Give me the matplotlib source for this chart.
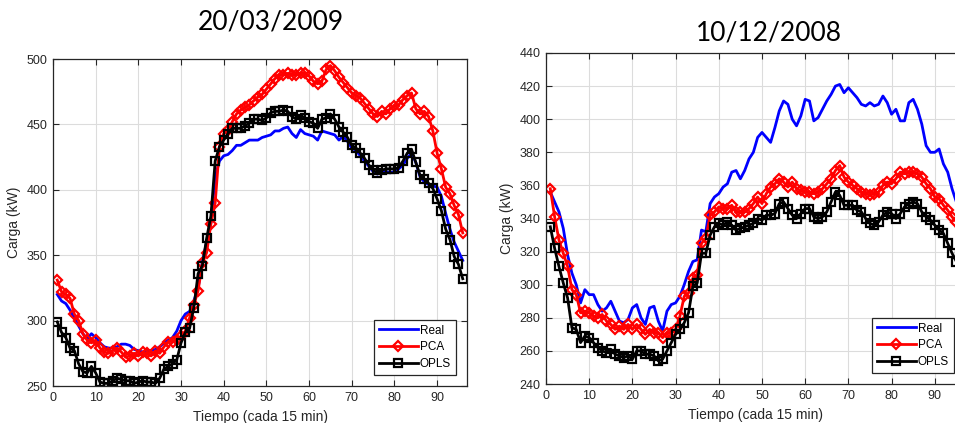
import matplotlib
matplotlib.use('Agg')
import matplotlib.pyplot as plt
import numpy as np

# load profiles, one value every 15 min (96 per day)
tiempo = np.arange(1, 97)

# 20/03/2009
real_mar = [320, 315, 313, 308, 302, 296, 290, 286, 290, 287,
            283, 280, 279, 279, 280, 282, 282, 281, 278, 277,
            276, 277, 277, 278, 280, 283, 285, 287, 292, 300,
            305, 307, 315, 325, 345, 360, 375, 410, 422, 426,
            427, 430, 434, 434, 436, 438, 438, 438, 440, 441,
            442, 445, 445, 447, 448, 443, 440, 446, 443, 442,
            441, 438, 445, 444, 443, 442, 438, 441, 437, 432,
            430, 426, 422, 418, 414, 412, 414, 414, 413, 414,
            416, 419, 424, 428, 421, 410, 406, 404, 403, 402,
            395, 382, 370, 360, 353, 346]
pca_mar = [331, 322, 320, 317, 305, 300, 290, 285, 283, 285,
           279, 276, 275, 277, 279, 276, 272, 273, 275, 273,
           276, 275, 273, 277, 275, 280, 284, 284, 285, 288,
           292, 302, 312, 323, 344, 352, 374, 390, 433, 443,
           446, 452, 458, 461, 463, 465, 468, 471, 473, 477,
           481, 485, 488, 488, 489, 488, 488, 489, 489, 487,
           483, 481, 483, 492, 495, 491, 486, 482, 478, 474,
           472, 470, 466, 462, 458, 456, 460, 458, 462, 464,
           465, 469, 472, 474, 462, 458, 460, 456, 445, 428,
           416, 402, 397, 388, 381, 367]
opls_mar = [299, 291, 287, 279, 277, 267, 261, 260, 265, 260,
            253, 252, 252, 254, 256, 255, 254, 254, 252, 253,
            254, 253, 253, 252, 256, 263, 265, 267, 270, 283,
            291, 294, 310, 336, 342, 363, 380, 422, 433, 438,
            443, 447, 447, 447, 449, 451, 454, 454, 453, 455,
            459, 460, 460, 461, 460, 456, 454, 457, 455, 452,
            451, 447, 454, 455, 458, 454, 448, 444, 440, 434,
            432, 428, 424, 419, 415, 413, 415, 416, 416, 416,
            417, 422, 428, 431, 421, 411, 408, 405, 401, 393,
            384, 370, 362, 349, 343, 332]

# 10/12/2008
real_dic = [356, 350, 344, 334, 318, 307, 300, 289, 297, 294,
            294, 288, 284, 286, 290, 284, 278, 277, 279, 286,
            288, 280, 276, 286, 287, 278, 272, 284, 288, 289,
            293, 300, 308, 314, 315, 333, 332, 349, 353, 355,
            359, 361, 368, 369, 364, 369, 376, 380, 389, 392,
            389, 386, 395, 405, 411, 409, 400, 396, 402, 412,
            411, 399, 401, 406, 411, 415, 420, 421, 416, 419,
            416, 413, 409, 408, 410, 408, 409, 414, 410, 403,
            406, 399, 399, 410, 412, 406, 397, 384, 380, 380,
            382, 373, 368, 358, 350, 344]
pca_dic = [358, 341, 327, 319, 311, 297, 294, 283, 284, 283,
           281, 280, 282, 278, 276, 273, 275, 273, 276, 273,
           276, 273, 270, 273, 271, 271, 268, 271, 271, 273,
           281, 293, 295, 304, 306, 325, 328, 342, 344, 347,
           346, 346, 348, 344, 344, 344, 346, 349, 353, 349,
           355, 359, 361, 364, 362, 359, 362, 358, 357, 356,
           356, 355, 356, 358, 361, 364, 369, 372, 365, 362,
           360, 358, 356, 355, 354, 355, 356, 360, 362, 361,
           364, 368, 367, 368, 368, 367, 365, 361, 358, 353,
           352, 348, 345, 341, 338, 335]
opls_dic = [335, 322, 311, 301, 292, 274, 273, 265, 269, 268,
            265, 262, 260, 259, 261, 258, 257, 256, 257, 255,
            260, 260, 258, 258, 257, 254, 255, 260, 265, 270,
            273, 277, 283, 299, 301, 319, 319, 330, 335, 337,
            336, 338, 336, 333, 334, 335, 336, 337, 340, 339,
            342, 342, 343, 349, 350, 346, 342, 340, 343, 346,
            346, 341, 340, 341, 344, 350, 356, 354, 348, 348,
            348, 345, 344, 340, 337, 336, 338, 342, 344, 343,
            340, 343, 347, 349, 350, 349, 344, 341, 339, 336,
            333, 331, 325, 319, 314, 311]

x_ticks = np.arange(0, 100, 10)
y_ticks_mar = np.arange(250, 501, 50)
y_ticks_dic = np.arange(240, 441, 20)

gris = '#262626'
plt.rcParams['font.family'] = ['Liberation Sans', 'DejaVu Sans']

W, H = 955, 423
fig = plt.figure(figsize=(W / 100, H / 100), dpi=100)
ax1 = fig.add_axes([53 / W, (H - 386) / H, 414 / W, 327 / H])
# the second panel runs a little past the right edge of the image
ax2 = fig.add_axes([546 / W, (H - 384) / H, 419 / W, 331 / H])


def dibujar(ax, real, pca, opls, yticks):
    ax.plot(tiempo, real, color='#0000ff', lw=2, label='Real')
    ax.plot(tiempo, pca, color='#ff0000', lw=2, marker='D', ms=4.8,
            mfc='none', mew=1.6, label='PCA')
    ax.plot(tiempo, opls, color='black', lw=2, marker='s', ms=5.8,
            mfc='none', mew=1.6, label='OPLS')
    ax.set_xlim(0, 97)
    ax.set_ylim(yticks[0], yticks[-1])
    ax.set_xticks(x_ticks)
    ax.set_yticks(yticks)
    ax.grid(True, color='#dcdcdc', lw=0.8)
    ax.set_axisbelow(True)
    ax.tick_params(direction='in', length=4, top=True, right=True,
                   colors=gris, labelsize=9, pad=4)
    for s in ax.spines.values():
        s.set_color(gris)
        s.set_linewidth(0.9)
    ax.set_xlabel('Tiempo (cada 15 min)', fontsize=10, color=gris, labelpad=4.5)
    ax.set_ylabel('Carga (kW)', fontsize=10, color=gris, labelpad=4)
    leg = ax.legend(loc='lower right', fontsize=8.5, fancybox=False,
                    framealpha=1, edgecolor=gris, borderaxespad=0.95,
                    handlelength=3.3, handletextpad=0.2, labelspacing=0.4,
                    borderpad=0.4)
    leg.get_frame().set_linewidth(0.9)


dibujar(ax1, real_mar, pca_mar, opls_mar, y_ticks_mar)
dibujar(ax2, real_dic, pca_dic, opls_dic, y_ticks_dic)

fig.text(271 / W, 1 - 22 / H, '20/03/2009', fontsize=19, family='Lato',
         ha='center', va='center')
fig.text(769 / W, 1 - 33 / H, '10/12/2008', fontsize=19, family='Lato',
         ha='center', va='center')

fig.savefig('out.png', dpi=100)
